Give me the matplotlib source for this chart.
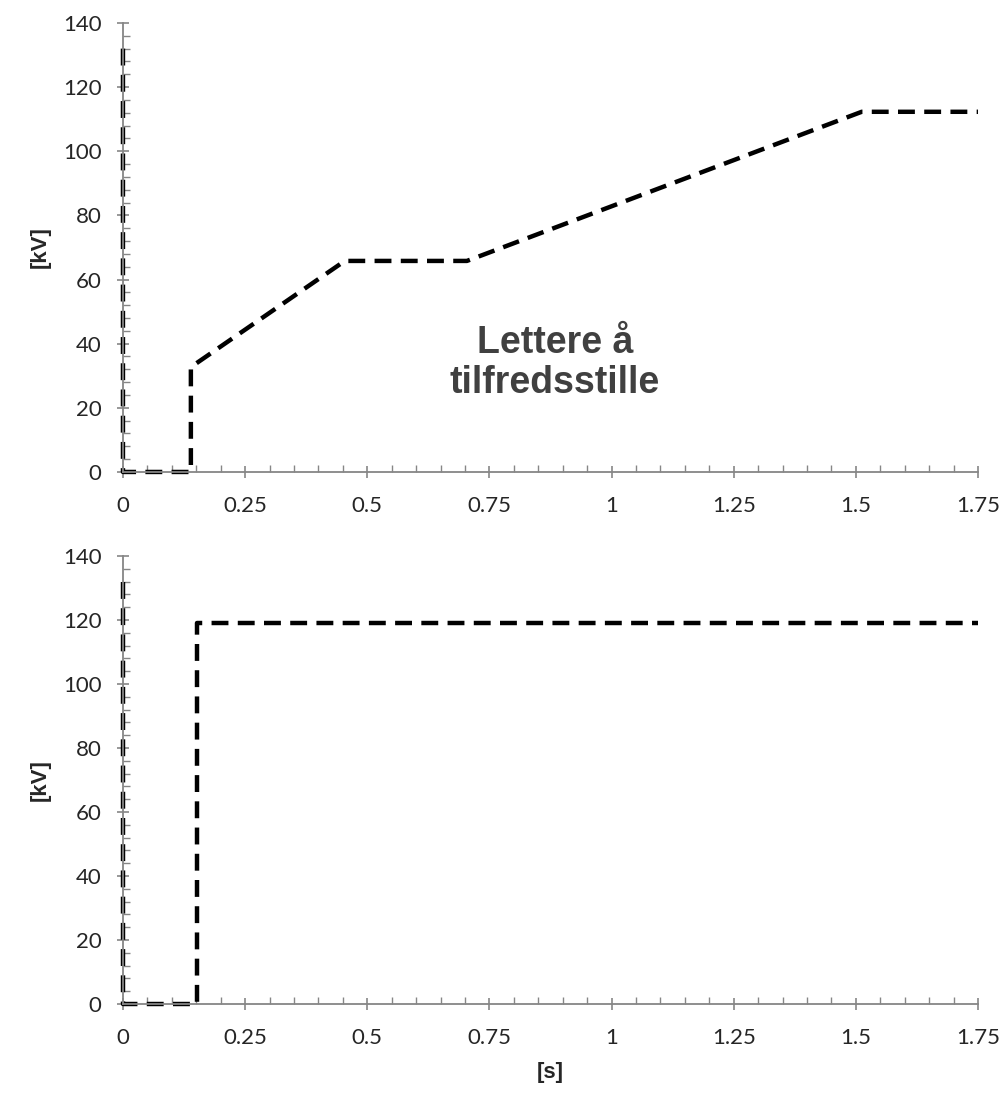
import matplotlib.pyplot as plt
from matplotlib.ticker import MultipleLocator, FuncFormatter

# data
t_top = [0, 0, 0.139, 0.139, 0.454, 0.704, 1.512, 1.75]
kv_top = [132, 0, 0, 32.7, 65.8, 65.8, 112.3, 112.3]
t_bot = [0, 0, 0.151, 0.151, 1.75]
kv_bot = [132, 0, 0, 119, 119]
note = "Lettere å\ntilfredsstille"

grey = "#868686"
txt = "#262626"
plt.rcParams['font.family'] = ['Lato', 'DejaVu Sans']

fig = plt.figure(figsize=(10.07, 10.93), dpi=100)
ax1 = fig.add_axes([0.1221, 0.5682, 0.8491, 0.4108])
ax2 = fig.add_axes([0.1221, 0.0814, 0.8491, 0.4099])

def fmt(v, pos):
    return f"{v:g}"

for ax, t, kv in [(ax1, t_top, kv_top), (ax2, t_bot, kv_bot)]:
    ax.plot(t, kv, color='black', lw=3.2, linestyle=(0, (3.8, 2.1)), clip_on=False)
    ax.set_xlim(0, 1.75)
    ax.set_ylim(0, 140)
    ax.xaxis.set_major_locator(MultipleLocator(0.25))
    ax.xaxis.set_minor_locator(MultipleLocator(0.05))
    ax.yaxis.set_major_locator(MultipleLocator(20))
    ax.yaxis.set_minor_locator(MultipleLocator(4))
    ax.xaxis.set_major_formatter(FuncFormatter(fmt))
    for s in ['top', 'right']:
        ax.spines[s].set_visible(False)
    for s in ['left', 'bottom']:
        ax.spines[s].set_color(grey)
        ax.spines[s].set_linewidth(1.3)
    ax.tick_params(which='major', direction='inout', length=9, width=1.2,
                   color=grey, labelsize=16, labelcolor=txt)
    ax.tick_params(axis='y', which='major', pad=11)
    ax.tick_params(axis='x', which='major', pad=13)
    ax.tick_params(which='minor', direction='in', length=5, width=1.0, color=grey)
    ax.set_ylabel("[kV]", fontsize=16, fontweight='bold', color=txt,
                  family=['Liberation Sans'], labelpad=9)

ax1.text(0.884, 34, note, ha='center', va='center', fontsize=27,
         fontweight='bold', color='#404040', family=['Liberation Sans'],
         linespacing=1.15)
ax2.set_xlabel("[s]", fontsize=16, fontweight='bold', color=txt,
               family=['Liberation Sans'], labelpad=10)

fig.savefig("out.png", dpi=100)
